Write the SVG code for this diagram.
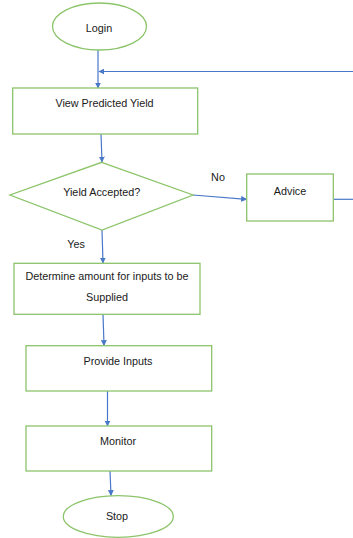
<svg xmlns="http://www.w3.org/2000/svg" width="353" height="538" viewBox="0 0 353 538">
  <style>
    .shape { fill: #ffffff; stroke: #8cc46a; stroke-width: 1.3; }
    .label { font-family: "Liberation Sans", Arial, sans-serif; font-size: 10.8px; fill: #1a1a1a; text-anchor: middle; dominant-baseline: middle; }
    .conn { fill: none; stroke: #4a78c8; stroke-width: 1.2; }
  </style>
  <defs>
    <marker id="arrow" viewBox="0 0 10 10" refX="9" refY="5" markerWidth="6" markerHeight="6" markerUnits="userSpaceOnUse" orient="auto">
      <path d="M0,0 L10,5 L0,10 Z" fill="#4a78c8"/>
    </marker>
  </defs>
  <rect width="353" height="538" fill="#ffffff"/>

  <g id="connectors">
    <path class="conn" d="M98,50 L98,88" marker-end="url(#arrow)"/>
    <path class="conn" d="M353,71.5 L99,71.5" marker-end="url(#arrow)"/>
    <path class="conn" d="M101,134 L102,162" marker-end="url(#arrow)"/>
    <path class="conn" d="M193,195 L246.5,199.3" marker-end="url(#arrow)"/>
    <path class="conn" d="M333.5,199.3 L353,199.3"/>
    <path class="conn" d="M102,230 L103,263" marker-end="url(#arrow)"/>
    <path class="conn" d="M103,314 L104,345.5" marker-end="url(#arrow)"/>
    <path class="conn" d="M107.5,391 L107.5,426" marker-end="url(#arrow)"/>
    <path class="conn" d="M110,471 L111,495.5" marker-end="url(#arrow)"/>
    <text class="label" x="218" y="178">No</text>
    <text class="label" x="76" y="245">Yes</text>
  </g>

  <g id="login">
    <ellipse class="shape" cx="99.5" cy="26.5" rx="47" ry="23.5"/>
    <text class="label" x="99" y="29">Login</text>
  </g>

  <g id="view-yield">
    <rect class="shape" x="12.7" y="88" width="185" height="46"/>
    <text class="label" x="104.5" y="104">View Predicted Yield</text>
  </g>

  <g id="yield-accepted">
    <polygon class="shape" points="101.7,162.3 193,195 102,230 10,195"/>
    <text class="label" x="101.7" y="193">Yield Accepted?</text>
  </g>

  <g id="advice">
    <rect class="shape" x="246.7" y="174" width="86.6" height="47"/>
    <text class="label" x="290" y="192">Advice</text>
  </g>

  <g id="determine">
    <rect class="shape" x="14" y="263.3" width="186" height="51"/>
    <text class="label" x="107" y="277.5">Determine amount for inputs to be</text>
    <text class="label" x="107" y="298">Supplied</text>
  </g>

  <g id="provide">
    <rect class="shape" x="26" y="345.7" width="185.7" height="45.3"/>
    <text class="label" x="118" y="362">Provide Inputs</text>
  </g>

  <g id="monitor">
    <rect class="shape" x="26" y="426" width="185.7" height="45"/>
    <text class="label" x="118" y="442">Monitor</text>
  </g>

  <g id="stop">
    <ellipse class="shape" cx="118.3" cy="516.5" rx="55" ry="20.8"/>
    <text class="label" x="117" y="517">Stop</text>
  </g>
</svg>
